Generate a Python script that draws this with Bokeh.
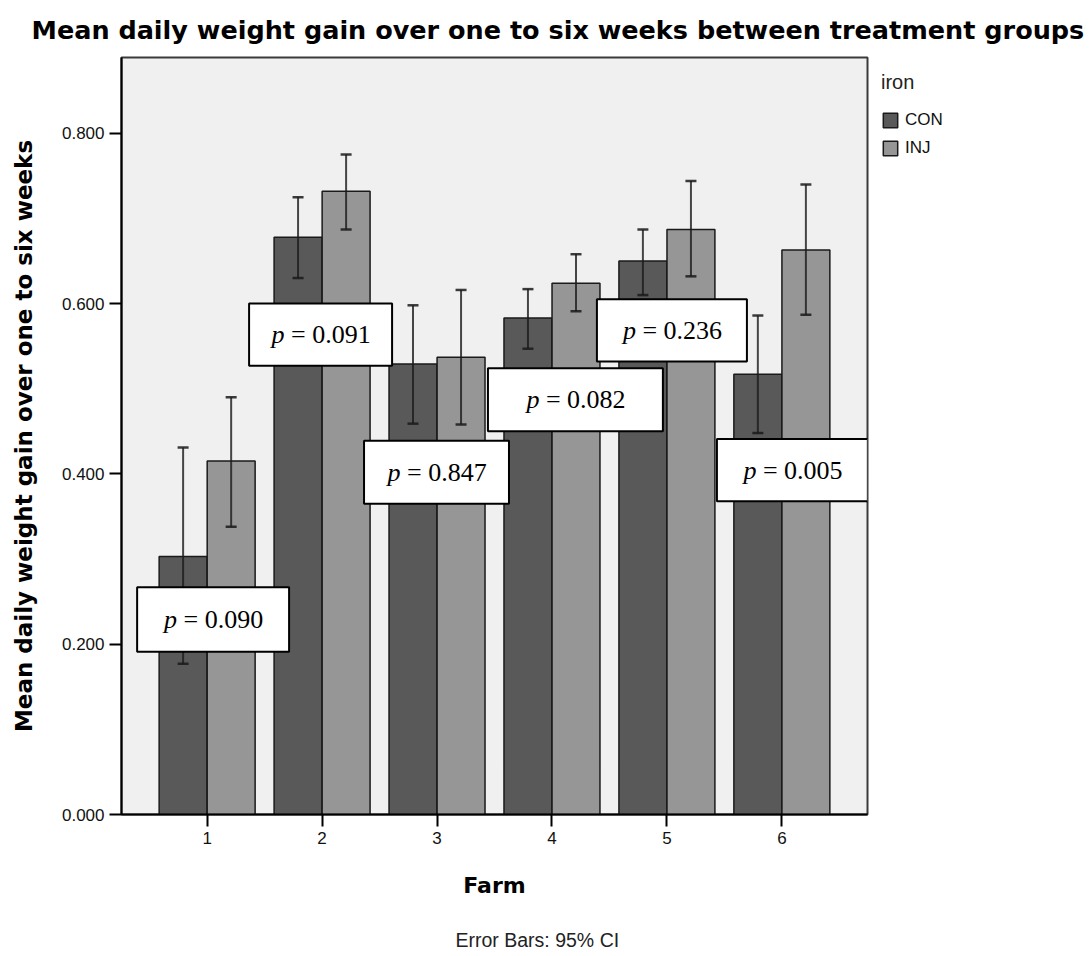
from bokeh.plotting import figure
from bokeh.models import Legend, LegendItem, FixedTicker, Title, Range1d
from bokeh.embed import file_html
from bokeh.resources import INLINE
from bokeh.core.properties import value

# ---------------- data ----------------
farms = [1, 2, 3, 4, 5, 6]
groups = ["CON", "INJ"]
con_mean = [0.303, 0.678, 0.529, 0.583, 0.650, 0.517]
con_lower = [0.177, 0.630, 0.459, 0.547, 0.610, 0.448]
con_upper = [0.431, 0.725, 0.598, 0.617, 0.687, 0.586]
inj_mean = [0.415, 0.732, 0.537, 0.624, 0.687, 0.663]
inj_lower = [0.338, 0.687, 0.458, 0.591, 0.632, 0.587]
inj_upper = [0.490, 0.775, 0.616, 0.658, 0.744, 0.740]
p_values = ["0.090", "0.091", "0.847", "0.082", "0.236", "0.005"]
y_ticks = [0.0, 0.2, 0.4, 0.6, 0.8]
y_tick_labels = ["0.000", "0.200", "0.400", "0.600", "0.800"]
x_tick_labels = ["1", "2", "3", "4", "5", "6"]

# p-value box layout (data coordinates)
box_left = [0.391, 1.365, 2.365, 3.443, 4.391, 5.435]
box_right = [1.713, 2.609, 3.626, 4.965, 5.696, 6.748]
box_top = [0.267, 0.600, 0.439, 0.524, 0.605, 0.441]
box_bottom = [0.191, 0.527, 0.365, 0.450, 0.532, 0.368]

# ---------------- figure ----------------
p = figure(width=1087, height=953, frame_width=746, frame_height=757,
           output_backend="svg", toolbar_location=None,
           x_range=Range1d(0.255, 6.745), y_range=Range1d(0, 0.889),
           min_border_left=121, min_border_right=220, min_border_top=56,
           min_border_bottom=140)
p.background_fill_color = "#f0f0f0"
p.border_fill_color = "white"
p.outline_line_color = "#3a3a3a"
p.outline_line_width = 2
p.xgrid.visible = False
p.ygrid.visible = False

p.title = Title(text="Mean daily weight gain over one to six weeks between treatment groups",
                align="left", offset=-90, text_font="DejaVu Sans",
                text_font_style="bold", text_font_size="25.5px", text_color="black",
                standoff=25)

off = 0.209
bw = 0.417
con_x = [f - off for f in farms]
inj_x = [f + off for f in farms]

r_con = p.vbar(x=con_x, top=con_mean, bottom=0, width=bw, fill_color="#595959",
               line_color="#1a1a1a", line_width=1.5)
r_inj = p.vbar(x=inj_x, top=inj_mean, bottom=0, width=bw, fill_color="#969696",
               line_color="#1a1a1a", line_width=1.5)

for xs, lo, hi in ((con_x, con_lower, con_upper), (inj_x, inj_lower, inj_upper)):
    p.segment(x0=xs, y0=lo, x1=xs, y1=hi, line_color="#1a1a1a", line_width=2, line_alpha=0.8)
    p.scatter(x=xs, y=hi, marker="dash", size=11, line_color="#1a1a1a", line_width=2.5, line_alpha=0.85)
    p.scatter(x=xs, y=lo, marker="dash", size=11, line_color="#1a1a1a", line_width=2.5, line_alpha=0.85)

# p-value boxes
p.quad(left=box_left, right=box_right, top=box_top, bottom=box_bottom,
       fill_color="white", line_color="black", line_width=2)
cx = [(a + b) / 2 for a, b in zip(box_left, box_right)]
cy = [(a + b) / 2 for a, b in zip(box_top, box_bottom)]
p.text(x=cx, y=cy, text=["p"] * len(p_values), text_font=value("Liberation Serif"),
       text_font_style="italic", text_font_size="26px", text_align="right",
       text_baseline="middle", x_offset=-36, text_color="black")
p.text(x=cx, y=cy, text=["\u00a0=\u00a0" + v for v in p_values], text_font=value("Liberation Serif"),
       text_font_size="26px", text_align="left", text_baseline="middle",
       x_offset=-36, text_color="black")

# axes
p.xaxis.ticker = FixedTicker(ticks=farms)
p.xaxis.major_label_overrides = {f: l for f, l in zip(farms, x_tick_labels)}
p.yaxis.ticker = FixedTicker(ticks=y_ticks)
p.yaxis.major_label_overrides = {t: l for t, l in zip(y_ticks, y_tick_labels)}
for ax in (p.xaxis[0], p.yaxis[0]):
    ax.axis_line_color = "black"
    ax.axis_line_width = 2
    ax.major_tick_line_color = "black"
    ax.major_tick_line_width = 2
    ax.major_tick_out = 12
    ax.major_tick_in = 0
    ax.minor_tick_line_color = None
    ax.major_label_text_font = "Liberation Sans"
    ax.major_label_text_font_size = "17px"
    ax.major_label_text_color = "#111111"
    ax.major_label_standoff = 5
    ax.axis_label_text_font = "DejaVu Sans"
    ax.axis_label_text_font_style = "bold"
    ax.axis_label_text_color = "black"

p.xaxis.axis_label = "Farm"
p.xaxis.axis_label_text_font_size = "22px"
p.xaxis.axis_label_standoff = 26
p.yaxis.axis_label = "Mean daily weight gain over one to six weeks"
p.yaxis.axis_label_text_font_size = "23px"
p.yaxis.axis_label_standoff = 22

p.add_layout(Title(text="Error Bars: 95% CI", align="left", offset=334,
                   text_font="Liberation Sans", text_font_style="normal",
                   text_font_size="19.5px", text_color="#222222", standoff=52), "below")

legend = Legend(items=[LegendItem(label=groups[0], renderers=[r_con]),
                       LegendItem(label=groups[1], renderers=[r_inj])],
                title="iron", location="top_left")
legend.title_text_font = "Liberation Sans"
legend.title_text_font_size = "20px"
legend.title_text_font_style = "normal"
legend.title_text_color = "#222222"
legend.title_standoff = 16
legend.label_text_font = "Liberation Sans"
legend.label_text_font_size = "17px"
legend.label_text_color = "#111111"
legend.glyph_width = 18
legend.glyph_height = 18
legend.label_height = 18
legend.label_standoff = 6
legend.spacing = 8
legend.padding = 0
legend.margin = 14
legend.border_line_color = None
legend.background_fill_alpha = 0
p.add_layout(legend, "right")

open("out.html", "w").write(file_html(p, INLINE))
